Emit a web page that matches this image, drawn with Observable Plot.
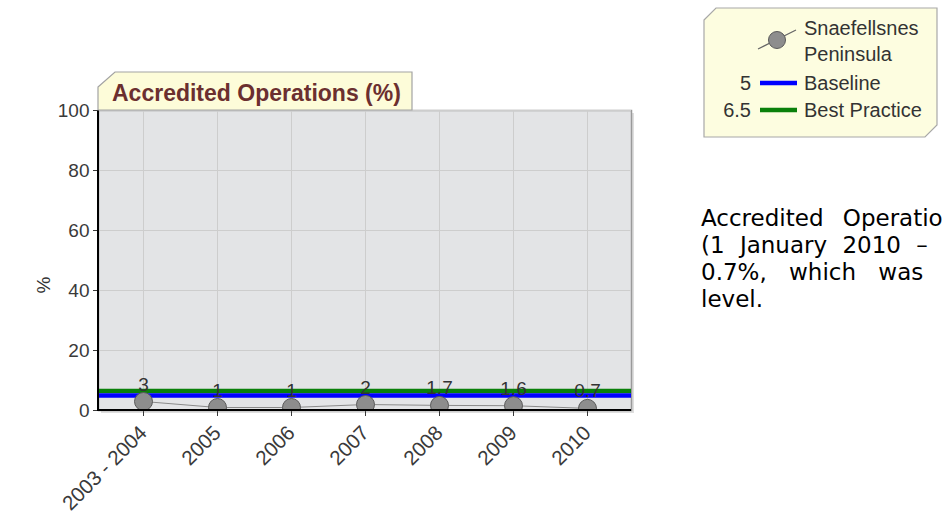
<!DOCTYPE html>
<html>
<head>
<meta charset="utf-8">
<script src="https://cdn.jsdelivr.net/npm/d3@7"></script>
<script src="https://cdn.jsdelivr.net/npm/@observablehq/plot@0.6"></script>
<style>
  html, body { margin: 0; padding: 0; background: #ffffff; }
  #page { position: relative; width: 943px; height: 523px; overflow: hidden; }
  #chart { position: absolute; left: 0; top: 0; }
  .overlay { position: absolute; left: 0; top: 0; }
  #para { position: absolute; left: 701px; top: 205px; font-family: "DejaVu Sans", Verdana, sans-serif;
          font-size: 23px; line-height: 27px; color: #000; white-space: nowrap; }
</style>
</head>
<body>
<div id="page">
  <div id="chart"></div>
  <svg class="overlay" width="943" height="523" id="deco"></svg>
  <div id="para"></div>
</div>
<script>
// ---- data ----
const categories = ["2003 - 2004", "2005", "2006", "2007", "2008", "2009", "2010"];
const values = [3, 1, 1, 2, 1.7, 1.6, 0.7];
const valueLabels = ["3", "1", "1", "2", "1.7", "1.6", "0.7"];
const baselineValue = 5;
const bestPracticeValue = 6.5;
const yTicks = [0, 20, 40, 60, 80, 100];
const chartTitle = "Accredited Operations (%)";
const yLabel = "%";
const seriesName = ["Snaefellsnes", "Peninsula"];
const legendRows = [
  { value: "5", name: "Baseline" },
  { value: "6.5", name: "Best Practice" }
];
const paragraphLines = [
  "Accredited Operations for the period",
  "(1 January 2010 – 31 December 2010) was",
  "0.7%, which was below the baseline",
  "level."
];

const data = categories.map((c, i) => ({ cat: c, v: values[i], label: valueLabels[i] }));

const W = 943, H = 523;
const pLeft = 98, pRight = 631, pTop = 110, pBottom = 410;
const blue = "#0000ff", green = "#0a800a";

const shadow = (index, scales, vals, dims) => {
  const r = d3.create("svg:rect")
    .attr("x", dims.marginLeft + 3).attr("y", dims.marginTop + 3)
    .attr("width", dims.width - dims.marginLeft - dims.marginRight)
    .attr("height", dims.height - dims.marginTop - dims.marginBottom)
    .attr("fill", "#000").attr("fill-opacity", 0.13);
  return r.node();
};
const axisLines = (index, scales, vals, dims) => {
  const g = d3.create("svg:g");
  const x0 = dims.marginLeft, x1 = dims.width - dims.marginRight;
  const y0 = dims.marginTop, y1 = dims.height - dims.marginBottom;
  g.append("line").attr("x1", x0).attr("x2", x0).attr("y1", y0).attr("y2", y1 + 1)
    .attr("stroke", "#000").attr("stroke-width", 2);
  g.append("line").attr("x1", x0 - 1).attr("x2", x1).attr("y1", y1).attr("y2", y1)
    .attr("stroke", "#000").attr("stroke-width", 2);
  return g.node();
};

const chart = Plot.plot({
  width: W,
  height: H,
  marginLeft: pLeft,
  marginRight: W - pRight,
  marginTop: pTop,
  marginBottom: H - pBottom,
  style: { fontFamily: "'Liberation Sans', Arial, sans-serif", fontSize: "19px", color: "#3a3a3a", background: "transparent", overflow: "visible" },
  x: { type: "point", domain: categories, padding: 0.58, label: null, tickRotate: -45, tickSize: 6, tickPadding: 13 },
  y: { domain: [0, 100], ticks: yTicks, label: null, tickSize: 5, tickPadding: 4 },
  marks: [
    shadow,
    Plot.frame({ fill: "#e3e4e6", stroke: "#9a9a9a", strokeWidth: 1.5 }),
    Plot.gridX({ stroke: "#cdcdcd", strokeOpacity: 1, strokeWidth: 1 }),
    Plot.gridY(yTicks, { stroke: "#cdcdcd", strokeOpacity: 1, strokeWidth: 1 }),
    Plot.ruleY([bestPracticeValue], { stroke: green, strokeWidth: 4.5 }),
    Plot.ruleY([baselineValue], { stroke: blue, strokeWidth: 4.5 }),
    Plot.line(data, { x: "cat", y: "v", stroke: "#8a8a8a", strokeWidth: 1 }),
    Plot.dot(data, { x: "cat", y: "v", r: 9, fill: "#8d8d8d", stroke: "#5a5a5a", strokeWidth: 1, clip: true }),
    axisLines,
    Plot.text(data, { x: "cat", y: "v", text: "label", dy: -17, fontSize: 19, fill: "#333" })
  ]
});
chart.querySelectorAll('[aria-label^="x-axis"] text').forEach(t => t.setAttribute("font-size", "20.5"));
document.getElementById("chart").appendChild(chart);

// ---- decorations: title tab, y label, legend ----
const deco = d3.select("#deco");
deco.append("polygon")
  .attr("points", `${pLeft},87 ${pLeft + 17},72 412,72 412,${pTop} ${pLeft},${pTop}`)
  .attr("fill", "#fdfcd9").attr("stroke", "#a3a3a3").attr("stroke-width", 1.2);
deco.append("text").attr("x", 112).attr("y", 101)
  .attr("font-family", "'Liberation Sans', Arial, sans-serif").attr("font-weight", "bold")
  .attr("font-size", 23).attr("fill", "#6b2f2f").text(chartTitle);

deco.append("text").attr("transform", "translate(50,285) rotate(-90)")
  .attr("text-anchor", "middle").attr("font-family", "'Liberation Sans', Arial, sans-serif")
  .attr("font-size", 19).attr("fill", "#333").text(yLabel);

const lg = deco.append("g").attr("font-family", "'Liberation Sans', Arial, sans-serif")
  .attr("font-size", 20).attr("fill", "#333");
lg.append("polygon")
  .attr("points", "704,20 716,8 937,8 937,125 925,137 704,137")
  .attr("fill", "#fdfde0").attr("stroke", "#a8a8a8").attr("stroke-width", 1.2);
lg.append("line").attr("x1", 758).attr("y1", 49).attr("x2", 796).attr("y2", 30)
  .attr("stroke", "#666").attr("stroke-width", 1.2);
lg.append("circle").attr("cx", 777).attr("cy", 40).attr("r", 8.5)
  .attr("fill", "#8d8d8d").attr("stroke", "#5a5a5a");
lg.append("text").attr("x", 804).attr("y", 35).text(seriesName[0]);
lg.append("text").attr("x", 804).attr("y", 61).text(seriesName[1]);
const rowColors = [blue, green];
legendRows.forEach((r, i) => {
  const y = 83 + i * 27;
  lg.append("text").attr("x", 751).attr("y", y + 7).attr("text-anchor", "end").text(r.value);
  lg.append("line").attr("x1", 760).attr("x2", 797).attr("y1", y).attr("y2", y)
    .attr("stroke", rowColors[i]).attr("stroke-width", 4.5);
  lg.append("text").attr("x", 804).attr("y", y + 7).text(r.name);
});

// ---- paragraph ----
const wordSpacing = [12, 8, 15, 0];
const para = document.getElementById("para");
paragraphLines.forEach((t, i) => {
  const d = document.createElement("div");
  d.textContent = t;
  d.style.wordSpacing = wordSpacing[i] + "px";
  para.appendChild(d);
});
</script>
</body>
</html>
